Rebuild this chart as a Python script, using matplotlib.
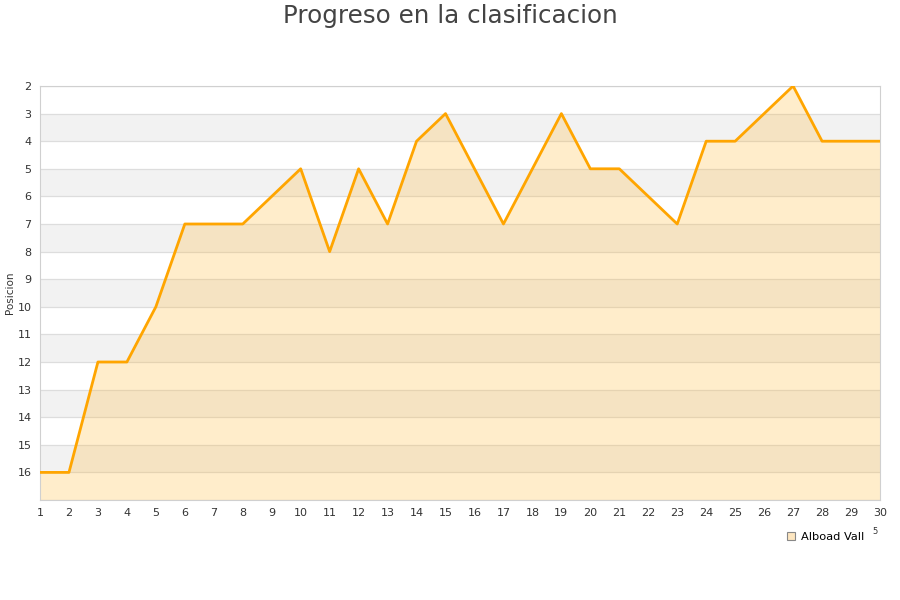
import numpy as np
import matplotlib
matplotlib.use("Agg")
import matplotlib.pyplot as plt
from matplotlib.lines import Line2D

jornadas = list(range(1, 31))
posicion = [16, 16, 12, 12, 10, 7, 7, 7, 6, 5, 8, 5, 7, 4, 3, 5, 7, 5, 3, 5,
            5, 6, 7, 4, 4, 3, 2, 4, 4, 4]
y_ticks = list(range(2, 17))
equipo = "Alboad Vall"

LINE = "#ffa500"
fig = plt.figure(figsize=(9, 6), dpi=100)
ax = fig.add_axes([40/900, 1-500/600, 840/900, 414/600])

# bandas alternas
for k in range(3, 17, 2):
    ax.axhspan(k, k+1, color="#f2f2f2", zorder=0, lw=0)
for k in range(2, 18):
    ax.axhline(k, color="#dddddd", lw=0.9, zorder=1)

ax.fill_between(jornadas, posicion, 17, color="#ffb833", alpha=0.25, lw=0, zorder=2)
ax.plot(jornadas, posicion, color=LINE, lw=2.0, zorder=3)

ax.set_xlim(1, 30)
ax.set_ylim(17, 2)
ax.set_xticks(jornadas)
ax.set_yticks(y_ticks)
ax.tick_params(length=0, labelsize=8, colors="#333333", pad=6)
for s in ax.spines.values():
    s.set_color("#d0d0d0")
ax.set_ylabel("Posicion", fontsize=7.5, color="#333333")
ax.yaxis.set_label_coords(-25/840, 0.5)

fig.text(0.5, 1-16/600, "Progreso en la clasificacion", ha="center", va="center",
         fontsize=17.7, color="#444444")

h = Line2D([], [], marker="s", ls="none", markersize=6, markerfacecolor="#fde6c0",
           markeredgecolor="#888888", markeredgewidth=0.8)
fig.legend([h], [equipo], loc="center", bbox_to_anchor=(825/900, 1-537/600),
           frameon=False, fontsize=8.2, handletextpad=0.4, handlelength=1.0)
fig.text(875/900, 1-532/600, "5", fontsize=6, color="#333333", ha="center", va="center")

fig.savefig("out.png", dpi=100, facecolor="white")
